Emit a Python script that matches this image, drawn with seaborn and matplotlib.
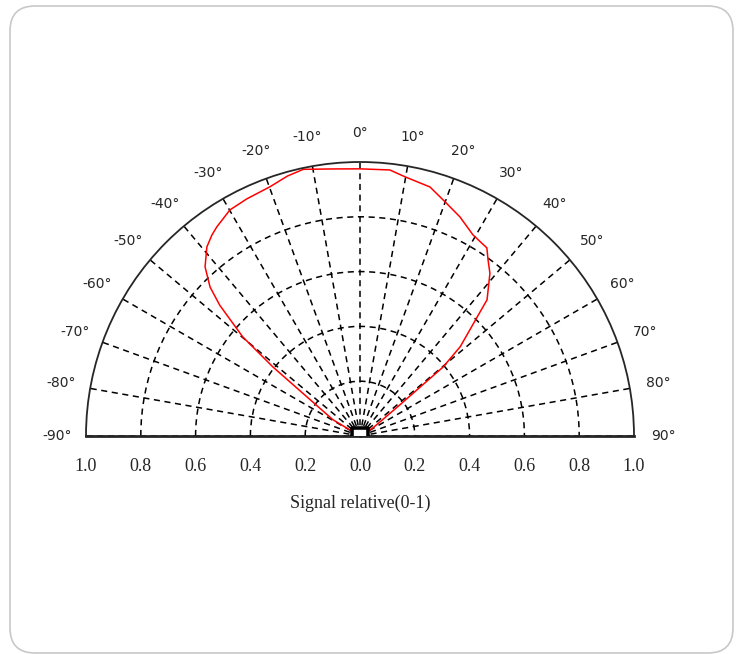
import numpy as np
import matplotlib
matplotlib.use('Agg')
import matplotlib.pyplot as plt
import seaborn as sns
from matplotlib.patches import FancyBboxPatch
from matplotlib.path import Path
from matplotlib.transforms import IdentityTransform

# red directivity curve (angle in degrees, relative signal)
angle_deg = [-60, -59, -53.6, -51.6, -49.8, -47, -45.2, -42.5, -39, -36.4, -34.4, -29.9, -25.5,
             -19.9, -15.6, -12, -6, 0, 6.4, 9.9, 15.7, 20, 24.5, 29.3, 34, 36, 38.6, 43, 44.8,
             48.3, 50.3, 51, 52, 58, 60]
signal = [0, 0.115, 0.24, 0.405, 0.56, 0.70, 0.771, 0.837, 0.888, 0.911, 0.925, 0.952, 0.959,
          0.967, 0.985, 0.995, 0.98, 0.975, 0.977, 0.96, 0.944, 0.909, 0.879, 0.842, 0.828, 0.795,
          0.76, 0.68, 0.60, 0.49, 0.394, 0.267, 0.185, 0.056, 0]

# grid / tick values
theta_ticks = list(range(-90, 91, 10))
theta_labels = [f'{t}°' for t in theta_ticks]
r_rings = [0.2, 0.4, 0.6, 0.8]
r_ticks = [-1.0, -0.8, -0.6, -0.4, -0.2, 0.0, 0.2, 0.4, 0.6, 0.8, 1.0]
r_labels = [f'{abs(v):.1f}' for v in r_ticks]

sns.set_style('white')
plt.rcParams['font.family'] = ['DejaVu Sans']

fig = plt.figure(figsize=(7.38, 6.54), dpi=100)
fig.patch.set_facecolor('white')
# rounded frame around the whole picture
frame = FancyBboxPatch((10, 1), 723, 647, boxstyle='round,pad=0,rounding_size=25',
                       transform=IdentityTransform(), fc='none', ec='#c8c8c8', lw=1.2)
fig.patches.append(frame)

# half-disc: centre at (360, 436) px, radius 274 px; the polar box is a square
# with the wedge centred vertically inside it
polar_rect = [86 / 738, (654 - 573) / 654, 548 / 738, 548 / 654]
ax = fig.add_axes(polar_rect, projection='polar')
ax.set_theta_zero_location('N')
ax.set_theta_direction(-1)
ax.set_thetamin(-90)
ax.set_thetamax(90)
ax.set_ylim(0, 1)
ax.set_facecolor('none')

ax.set_thetagrids(theta_ticks, theta_labels, fontsize=10)
ax.set_yticks(r_rings)
ax.set_yticklabels([])
ax.tick_params(axis='x', length=0, pad=14)
ax.grid(True, color='black', linestyle=(0, (4, 3)), linewidth=1.1)
ax.spines['polar'].set_linewidth(1.3)
ax.spines['start'].set_linewidth(2.0)
ax.spines['end'].set_linewidth(2.0)

sns.lineplot(x=np.deg2rad(angle_deg), y=signal, ax=ax, sort=False, estimator=None,
             color='red', linewidth=1.1)

# little sensor box at the origin
sensor = Path([(-1, 0), (-1, 1.05), (1, 1.05), (1, 0)])
ax.plot([0], [0], marker=sensor, ms=12, mec='black', mfc='white', mew=2.6,
        clip_on=False, zorder=6)
ax.set_xlabel('')
ax.set_ylabel('')

# bottom scale 1.0 ... 0.0 ... 1.0
scale_rect = [86 / 738, (654 - 436) / 654, 548 / 738, 274 / 654]
bx = fig.add_axes(scale_rect)
bx.set_facecolor('none')
bx.set_xlim(-1, 1)
bx.set_ylim(0, 1)
bx.set_xticks(r_ticks)
bx.set_xticklabels(r_labels, fontfamily='Liberation Serif', fontsize=13)
bx.set_yticks([])
bx.tick_params(axis='x', length=0, pad=16)
for s in bx.spines.values():
    s.set_visible(False)
bx.set_xlabel('Signal relative(0-1)', fontfamily='Liberation Serif', fontsize=13, labelpad=14)

fig.savefig('out.png', dpi=100)
